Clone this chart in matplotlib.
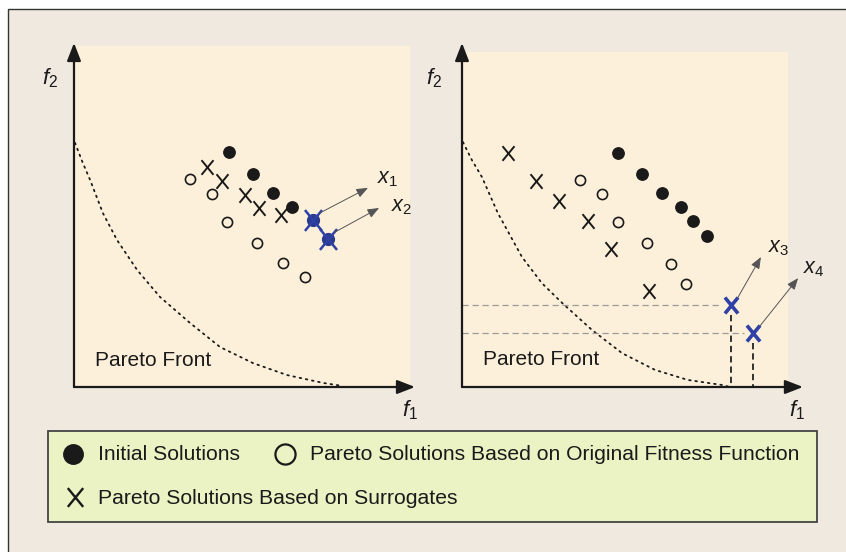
import matplotlib
matplotlib.use("Agg")
import matplotlib.pyplot as plt
from matplotlib.patches import Rectangle
from matplotlib.path import Path

plt.rcParams['font.family'] = ['Liberation Sans', 'DejaVu Sans']
plt.rcParams['mathtext.fontset'] = 'custom'
plt.rcParams['mathtext.it'] = 'Liberation Sans:italic'
plt.rcParams['mathtext.rm'] = 'Liberation Sans'

# ---- data (f1, f2 in arbitrary objective units, origin at axis corner) ----
# left panel
left_init_f1 = [4.61, 5.33, 5.92, 6.49]
left_init_f2 = [6.89, 6.25, 5.69, 5.28]
left_orig_f1 = [3.45, 4.11, 4.55, 5.45, 6.22, 6.88]
left_orig_f2 = [6.10, 5.66, 4.84, 4.22, 3.64, 3.23]
left_surr_f1 = [3.96, 4.40, 5.09, 5.51, 6.16]
left_surr_f2 = [6.45, 6.04, 5.63, 5.25, 5.04]
left_new_f1 = [7.11, 7.56]          # x1, x2 (blue)
left_new_f2 = [4.90, 4.34]
left_front_f1 = [0.03, 0.25, 0.48, 0.86, 1.28, 1.88, 2.56, 3.45, 4.35, 5.33, 6.34, 7.41, 8.00]
left_front_f2 = [7.16, 6.60, 6.07, 5.10, 4.31, 3.43, 2.64, 1.88, 1.17, 0.70, 0.35, 0.12, 0.03]
left_names = ['x_1', 'x_2']

# right panel
right_init_f1 = [4.79, 5.52, 6.13, 6.72, 7.09, 7.52]
right_init_f2 = [6.99, 6.36, 5.79, 5.37, 4.96, 4.51]
right_orig_f1 = [3.62, 4.29, 4.79, 5.67, 6.41, 6.87]
right_orig_f2 = [6.18, 5.76, 4.93, 4.30, 3.67, 3.07]
right_surr_f1 = [1.41, 2.27, 2.98, 3.87, 4.57, 5.74]
right_surr_f2 = [6.99, 6.15, 5.55, 4.96, 4.12, 2.87]
right_new_f1 = [8.25, 8.93]         # x3, x4 (blue)
right_new_f2 = [2.45, 1.61]
right_front_f1 = [0.03, 0.30, 0.61, 1.10, 1.84, 2.45, 3.07, 3.99, 4.91, 5.92, 6.93, 7.98, 8.22]
right_front_f2 = [7.31, 6.78, 6.27, 5.19, 3.88, 3.10, 2.51, 1.70, 1.01, 0.51, 0.21, 0.06, 0.00]
right_names = ['x_3', 'x_4']

legend_labels = ['Initial Solutions',
                 'Pareto Solutions Based on Original Fitness Function',
                 'Pareto Solutions Based on Surrogates']

BEIGE = '#f0e9df'
CREAM = '#fdf0da'
LEGEND_BG = '#ebf2c4'
BLUE = '#2f40a6'
INK = '#1a1a1a'

# X shaped like a font letter
x_marker = Path([(-0.82, -1), (0.82, 1), (-0.82, 1), (0.82, -1)],
                [Path.MOVETO, Path.LINETO, Path.MOVETO, Path.LINETO])

W, H = 846, 552
fig = plt.figure(figsize=(W / 100, H / 100), dpi=100, facecolor='white')

# background frame and legend (pixel coordinates)
bg = fig.add_axes([0, 0, 1, 1])
bg.set_xlim(0, W)
bg.set_ylim(H, 0)
bg.axis('off')
bg.add_patch(Rectangle((8, 8.5), W, H, facecolor=BEIGE, edgecolor='#333333', lw=1.0))
bg.add_patch(Rectangle((48, 431), 769, 91, facecolor=LEGEND_BG, edgecolor='#444444', lw=1.3))

bg.plot([73], [454], 'o', ms=14, color=INK)
bg.text(98, 455, legend_labels[0], fontsize=15.2, va='center', color=INK)
bg.plot([285], [454], 'o', ms=14.5, mfc='none', mec=INK, mew=1.6)
bg.text(310, 455, legend_labels[1], fontsize=15.2, va='center', color=INK)
bg.plot([74.5], [497], marker=x_marker, ms=13.5, mfc='none', mec=INK, mew=1.7, ls='none')
bg.text(98, 498, legend_labels[2], fontsize=15.2, va='center', color=INK)


def to_fig(x0, y0, x1, y1):
    return [x0 / W, 1 - y1 / H, (x1 - x0) / W, (y1 - y0) / H]


def arrow_axis(ax, tip_x, tip_y):
    style = '-|>,head_length=0.9,head_width=0.35'
    for tip in [(tip_x, 0), (0, tip_y)]:
        ax.annotate('', xy=tip, xytext=(0, 0),
                    arrowprops=dict(arrowstyle=style, color=INK, lw=1.6,
                                    mutation_scale=12, shrinkA=0, shrinkB=0),
                    annotation_clip=False)


def draw_panel(ax, init_f1, init_f2, orig_f1, orig_f2, surr_f1, surr_f2,
               front_f1, front_f2):
    ax.set_facecolor(CREAM)
    ax.set_xlim(0, 10)
    ax.set_ylim(0, 10)
    ax.set_xticks([])
    ax.set_yticks([])
    for s in ax.spines.values():
        s.set_visible(False)
    ax.plot(front_f1, front_f2, color=INK, lw=1.3, ls=(0, (0.9, 2.6)),
            dash_capstyle='round')
    ax.plot(init_f1, init_f2, 'o', ms=8.2, color=INK, ls='none')
    ax.plot(orig_f1, orig_f2, 'o', ms=7.3, mfc='none', mec=INK, mew=1.2, ls='none')
    ax.plot(surr_f1, surr_f2, marker=x_marker, ms=10.5, mfc='none', mec=INK,
            mew=1.4, ls='none')


def move_arrows(ax, f1, f2, names, label_pos):
    for x, y, name, (dx, dy, lx, ly) in zip(f1, f2, names, label_pos):
        ax.annotate('', xy=(x + dx, y + dy), xytext=(x + 0.2, y + 0.2),
                    arrowprops=dict(arrowstyle='-|>,head_length=0.7,head_width=0.28',
                                    color='#555555', lw=0.7, mutation_scale=10,
                                    shrinkA=0, shrinkB=0),
                    annotation_clip=False)
        ax.text(x + lx, y + ly, '$%s$' % name, fontsize=15.5, ha='center', va='center',
                color=INK, clip_on=False)


# ---- left panel ----
ax1 = fig.add_axes(to_fig(74, 46, 410, 387))
draw_panel(ax1, left_init_f1, left_init_f2, left_orig_f1, left_orig_f2,
           left_surr_f1, left_surr_f2, left_front_f1, left_front_f2)
ax1.plot(left_new_f1, left_new_f2, 'o', ms=8.5, color='#2a3a8c', ls='none')
ax1.plot(left_new_f1, left_new_f2, marker=x_marker, ms=15, mfc='none', mec=BLUE,
         mew=1.8, ls='none')
move_arrows(ax1, left_new_f1, left_new_f2, left_names,
            [(1.64, 0.94, 2.21, 1.20), (1.52, 0.91, 2.20, 0.94)])
arrow_axis(ax1, 10.15, 10.09)
ax1.text(0.63, 0.79, 'Pareto Front', fontsize=15, va='center', color=INK)
ax1.text(-0.71, 9.06, r'$f_{\mathrm{2}}$', fontsize=16, ha='center', va='center',
         color=INK, clip_on=False)
ax1.text(10.0, -0.67, r'$f_{\mathrm{1}}$', fontsize=16, ha='center', va='center',
         color=INK, clip_on=False)

# ---- right panel ----
ax2 = fig.add_axes(to_fig(462, 52, 788, 387))
draw_panel(ax2, right_init_f1, right_init_f2, right_orig_f1, right_orig_f2,
           right_surr_f1, right_surr_f2, right_front_f1, right_front_f2)
for x, y in zip(right_new_f1, right_new_f2):
    ax2.plot([0, x - 0.27], [y, y], color='#9a9a9a', lw=0.9, ls=(0, (5, 3)))
    ax2.plot([x, x], [y - 0.3, 0], color='#222222', lw=1.3, ls=(0, (3.5, 2.2)))
ax2.plot(right_new_f1, right_new_f2, marker=x_marker, ms=11.5, mfc='none', mec=BLUE,
         mew=2.6, ls='none')
move_arrows(ax2, right_new_f1, right_new_f2, right_names,
            [(0.92, 1.43, 1.47, 1.70), (1.38, 1.64, 1.87, 1.94)])
arrow_axis(ax2, 10.46, 10.27)
ax2.text(0.64, 0.81, 'Pareto Front', fontsize=15, va='center', color=INK)
ax2.text(-0.86, 9.22, r'$f_{\mathrm{2}}$', fontsize=16, ha='center', va='center',
         color=INK, clip_on=False)
ax2.text(10.28, -0.69, r'$f_{\mathrm{1}}$', fontsize=16, ha='center', va='center',
         color=INK, clip_on=False)

fig.savefig('out.png', dpi=100)
